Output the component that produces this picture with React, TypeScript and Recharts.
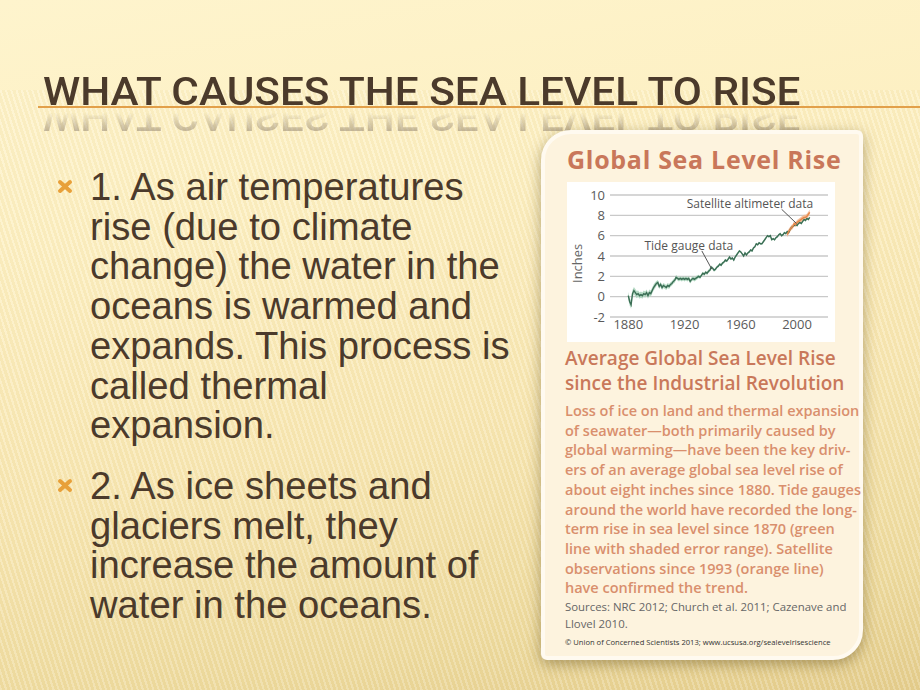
import React from "react";
import {
  ComposedChart,
  Area,
  Line,
  XAxis,
  YAxis,
  CartesianGrid,
  ReferenceLine,
  ReferenceDot,
} from "recharts";

// tide gauge record, one value per year from 1880 (inches)
const tideStart = 1880;
const tideValues = [
  0.1, -0.5, -0.8, 0.3, 0.6, 0.4, 0.2, 0.3, 0.1, 0.2,
  0.1, 0.3, 0.2, 0.4, 0.1, 0.4, 0.3, 0.6, 0.9, 1.1,
  1.3, 1.4, 1.0, 1.2, 0.9, 1.1, 1.0, 0.9, 1.1, 1.0,
  1.2, 1.3, 1.5, 1.6, 1.9, 1.8, 1.7, 1.8, 1.7, 1.8,
  1.7, 1.8, 1.7, 1.8, 1.5, 1.7, 1.8, 1.7, 1.8, 1.9,
  2.0, 1.9, 2.1, 2.3, 2.2, 2.4, 2.3, 2.5, 2.6, 2.9,
  2.8, 2.6, 2.7, 2.9, 3.0, 3.2, 3.1, 3.3, 3.4, 3.6,
  3.5, 3.7, 3.9, 3.7, 3.8, 3.6, 3.9, 4.1, 4.3, 4.5,
  4.4, 4.2, 4.0, 4.3, 4.1, 4.3, 4.4, 4.6, 4.5, 4.8,
  4.9, 5.2, 5.1, 5.3, 5.2, 5.2, 5.4, 5.6, 5.8, 6.0,
  5.9, 6.0, 5.6, 5.7, 5.6, 5.8, 5.9, 6.1, 6.2, 6.0,
  6.1, 6.3, 6.2, 6.4, 6.3, 6.6, 6.8, 6.9, 7.0, 7.1,
  7.0, 7.2, 7.3, 7.2, 7.4, 7.6, 7.5, 7.7, 7.6, 7.8,
];
// shaded error range (+/- inches), same years
const tideError = [
  0.35, 0.4, 0.4, 0.35, 0.35, 0.35, 0.35, 0.3, 0.3, 0.3,
  0.3, 0.3, 0.3, 0.3, 0.3, 0.3, 0.3, 0.3, 0.3, 0.3,
  0.25, 0.25, 0.25, 0.25, 0.25, 0.25, 0.25, 0.25, 0.25, 0.25,
  0.22, 0.22, 0.22, 0.22, 0.22, 0.22, 0.22, 0.22, 0.22, 0.22,
  0.2, 0.2, 0.2, 0.2, 0.2, 0.2, 0.2, 0.2, 0.2, 0.2,
  0.16, 0.16, 0.16, 0.16, 0.16, 0.16, 0.16, 0.16, 0.16, 0.16,
  0.14, 0.14, 0.14, 0.14, 0.14, 0.14, 0.14, 0.14, 0.14, 0.14,
  0.12, 0.12, 0.12, 0.12, 0.12, 0.12, 0.12, 0.12, 0.12, 0.12,
  0.1, 0.1, 0.1, 0.1, 0.1, 0.1, 0.1, 0.1, 0.1, 0.1,
  0.1, 0.1, 0.1, 0.1, 0.1, 0.1, 0.1, 0.1, 0.1, 0.1,
  0.1, 0.1, 0.1, 0.1, 0.1, 0.1, 0.1, 0.1, 0.1, 0.1,
  0.1, 0.1, 0.1, 0.1, 0.1, 0.1, 0.1, 0.1, 0.1, 0.1,
  0.1, 0.1, 0.1, 0.1, 0.1, 0.1, 0.1, 0.1, 0.1, 0.1,
];

// satellite altimeter record from 1993
const satStart = 1993;
const satValues = [6.1, 6.4, 6.6, 6.8, 6.9, 7.2, 7.1, 7.3, 7.4, 7.5, 7.6, 7.7, 7.8, 7.8, 7.9, 8.1, 8.3];
const satError = [0.25, 0.25, 0.25, 0.25, 0.25, 0.25, 0.25, 0.25, 0.25, 0.25, 0.25, 0.25, 0.25, 0.25, 0.25, 0.25, 0.25];

const yTicks = [-2, 0, 2, 4, 6, 8, 10];
const xTicks = [1880, 1920, 1960, 2000];

const tideLabel = "Tide gauge data";
const satLabel = "Satellite altimeter data";

const bullet1 = [
  "1. As air temperatures",
  "rise (due to climate",
  "change) the water in the",
  "oceans is warmed and",
  "expands. This process is",
  "called thermal",
  "expansion.",
];
const bullet2 = [
  "2. As ice sheets and",
  "glaciers melt, they",
  "increase the amount of",
  "water in the oceans.",
];

const bodyLines = [
  "Loss of ice on land and thermal expansion",
  "of seawater\u2014both primarily caused by",
  "global warming\u2014have been the key driv-",
  "ers of an average global sea level rise of",
  "about eight inches since 1880. Tide gauges",
  "around the world have recorded the long-",
  "term rise in sea level since 1870 (green",
  "line with shaded error range). Satellite",
  "observations since 1993 (orange line)",
  "have confirmed the trend.",
];

const rows: any[] = [];
for (let i = 0; i < tideValues.length; i++) {
  const year = tideStart + i;
  const row: any = {
    year,
    tide: tideValues[i],
    tideRange: [tideValues[i] - tideError[i], tideValues[i] + tideError[i]],
  };
  const j = year - satStart;
  if (j >= 0 && j < satValues.length) {
    row.sat = satValues[j];
    row.satRange = [satValues[j] - satError[j], satValues[j] + satError[j]];
  }
  rows.push(row);
}
// satellite runs a little past the tide record
for (let j = tideStart + tideValues.length - satStart; j < satValues.length; j++) {
  rows.push({
    year: satStart + j,
    sat: satValues[j],
    satRange: [satValues[j] - satError[j], satValues[j] + satError[j]],
  });
}

const cardFont = "'Open Sans', 'Noto Sans', sans-serif";

function SeaLevelChart() {
  return (
    <ComposedChart
      width={275}
      height={160}
      data={rows}
      margin={{ top: 13, right: 10, bottom: 0, left: 0 }}
    >
      <CartesianGrid vertical={false} stroke="#c9c9c9" strokeWidth={1.4} />
      <XAxis
        dataKey="year"
        type="number"
        domain={[1867, 2022]}
        ticks={xTicks}
        axisLine={false}
        tickLine={false}
        tickSize={2}
        tickMargin={1}
        height={25}
        tick={{ fontSize: 13, fill: "#5a5a5a", fontFamily: cardFont }}
      />
      <YAxis
        type="number"
        domain={[-2, 10]}
        ticks={yTicks}
        interval={0}
        axisLine={false}
        tickLine={false}
        tickSize={4}
        tickMargin={1}
        width={47}
        tick={{ fontSize: 13, fill: "#5a5a5a", fontFamily: cardFont }}
        label={{
          value: "Inches",
          angle: -90,
          position: "insideLeft",
          offset: 14,
          dy: 27,
          style: { fontSize: 13, fill: "#666", fontFamily: cardFont },
        }}
      />
      <Area
        dataKey="tideRange"
        stroke="none"
        fill="#a9d3bb"
        fillOpacity={0.85}
        isAnimationActive={false}
        connectNulls={false}
      />
      <Area
        dataKey="satRange"
        stroke="none"
        fill="#f3b58c"
        fillOpacity={0.85}
        isAnimationActive={false}
        connectNulls={false}
      />
      <Line
        dataKey="tide"
        stroke="#3b6e55"
        strokeWidth={1.4}
        dot={false}
        isAnimationActive={false}
      />
      <Line
        dataKey="sat"
        stroke="#e5874a"
        strokeWidth={1.4}
        dot={false}
        isAnimationActive={false}
      />
      <ReferenceLine
        segment={[
          { x: 1932.3, y: 4.5 },
          { x: 1939.4, y: 2.7 },
        ]}
        stroke="#555"
        strokeWidth={1}
      />
      <ReferenceLine
        segment={[
          { x: 1989, y: 8.6 },
          { x: 1999.6, y: 7.2 },
        ]}
        stroke="#555"
        strokeWidth={1}
      />
      <ReferenceDot
        x={1923}
        y={5.05}
        r={0}
        fill="none"
        stroke="none"
        label={{ value: tideLabel, position: "center", fill: "#555", fontSize: 12, fontFamily: cardFont }}
      />
      <ReferenceDot
        x={1966.5}
        y={9.1}
        r={0}
        fill="none"
        stroke="none"
        label={{ value: satLabel, position: "center", fill: "#555", fontSize: 12, fontFamily: cardFont }}
      />
    </ComposedChart>
  );
}

function Bullet({ lines, top }: { lines: string[]; top: number }) {
  return (
    <div style={{ position: "absolute", left: 0, top, width: 540 }}>
      <svg
        width={16}
        height={15}
        style={{ position: "absolute", left: 57, top: 12 }}
      >
        <line x1={3} y1={3} x2={13} y2={12} stroke="#e8a03a" strokeWidth={4} strokeLinecap="round" />
        <line x1={13} y1={3} x2={3} y2={12} stroke="#e8a03a" strokeWidth={4} strokeLinecap="round" />
      </svg>
      <div
        style={{
          position: "absolute",
          left: 90,
          top: 0,
          fontFamily: "'Liberation Sans', Arial, sans-serif",
          fontSize: 38.2,
          lineHeight: "39.7px",
          color: "#4b3a2b",
          whiteSpace: "nowrap",
        }}
      >
        {lines.map((l, i) => (
          <div key={i}>{l}</div>
        ))}
      </div>
    </div>
  );
}

export default function App() {
  const titleText = "WHAT CAUSES THE SEA LEVEL TO RISE";
  const titleStyle: React.CSSProperties = {
    position: "absolute",
    left: 43,
    top: 73,
    fontFamily: "Roboto, sans-serif",
    fontWeight: 500,
    fontSize: 38,
    lineHeight: "38px",
    whiteSpace: "nowrap",
    transformOrigin: "0 82%",
  };
  return (
    <div
      style={{
        position: "absolute",
        left: 0,
        top: 0,
        width: 920,
        height: 690,
        overflow: "hidden",
        background:
          "linear-gradient(170deg, #fef4cd 0%, #fdf0c3 30%, #f8e7b3 60%, #eedb9f 85%, #e4cd8d 100%)",
      }}
    >
      <div
        style={{
          position: "absolute",
          left: 0,
          top: 90,
          width: 920,
          height: 600,
          background:
            "repeating-linear-gradient(72deg, rgba(255,255,255,0.18) 0px, rgba(255,255,255,0.18) 2px, rgba(200,170,90,0.07) 2px, rgba(200,170,90,0.07) 5px)",
        }}
      />
      {/* title + its reflection */}
      <div
        style={{
          ...titleStyle,
          color: "#7d6d5d",
          opacity: 0.55,
          transform: "scaleX(1.113) scaleY(-1)",
          WebkitMaskImage: "linear-gradient(to top, rgba(0,0,0,0) 40%, rgba(0,0,0,1) 100%)",
          maskImage: "linear-gradient(to top, rgba(0,0,0,0) 40%, rgba(0,0,0,1) 100%)",
        }}
      >
        {titleText}
      </div>
      <div style={{ ...titleStyle, color: "#4b3a2b", transform: "scaleX(1.113)" }}>
        {titleText}
      </div>
      <div
        style={{
          position: "absolute",
          left: 38,
          top: 106,
          width: 882,
          height: 2,
          background: "#e2a04a",
        }}
      />

      <Bullet lines={bullet1} top={167} />
      <Bullet lines={bullet2} top={466} />

      {/* card */}
      <div
        style={{
          position: "absolute",
          left: 541,
          top: 130,
          width: 314,
          height: 522,
          background: "#fdf3de",
          border: "4px solid #fffaf0",
          borderRadius: "30px 6px 30px 6px",
          boxShadow: "0 4px 14px rgba(90,70,20,0.45)",
        }}
      />
      <div
        style={{
          position: "absolute",
          left: 567,
          top: 142,
          fontFamily: cardFont,
          fontWeight: 700,
          fontSize: 25,
          letterSpacing: 0.7,
          color: "#c9775a",
          whiteSpace: "nowrap",
        }}
      >
        Global Sea Level Rise
      </div>
      <div
        style={{
          position: "absolute",
          left: 567,
          top: 182,
          width: 268,
          height: 160,
          background: "#ffffff",
        }}
      />
      <div style={{ position: "absolute", left: 563, top: 182 }}>
        <SeaLevelChart />
      </div>
      <div
        style={{
          position: "absolute",
          left: 565,
          top: 346,
          fontFamily: cardFont,
          fontWeight: 600,
          fontSize: 19,
          lineHeight: "25px",
          color: "#c9785a",
          whiteSpace: "nowrap",
        }}
      >
        <div>Average Global Sea Level Rise</div>
        <div>since the Industrial Revolution</div>
      </div>
      <div
        style={{
          position: "absolute",
          left: 565,
          top: 401,
          fontFamily: cardFont,
          fontWeight: 600,
          fontSize: 14.5,
          lineHeight: "19.7px",
          color: "#d98f6d",
          whiteSpace: "nowrap",
        }}
      >
        {bodyLines.map((l, i) => (
          <div key={i}>{l}</div>
        ))}
      </div>
      <div
        style={{
          position: "absolute",
          left: 565,
          top: 598,
          fontFamily: cardFont,
          fontSize: 11.4,
          lineHeight: "17px",
          color: "#666",
          whiteSpace: "nowrap",
        }}
      >
        <div>Sources: NRC 2012; Church et al. 2011; Cazenave and</div>
        <div>Llovel 2010.</div>
      </div>
      <div
        style={{
          position: "absolute",
          left: 565,
          top: 637,
          fontFamily: cardFont,
          fontSize: 7.6,
          color: "#333",
          whiteSpace: "nowrap",
        }}
      >
        {"\u00a9 Union of Concerned Scientists 2013; www.ucsusa.org/sealevelrisescience"}
      </div>
    </div>
  );
}
